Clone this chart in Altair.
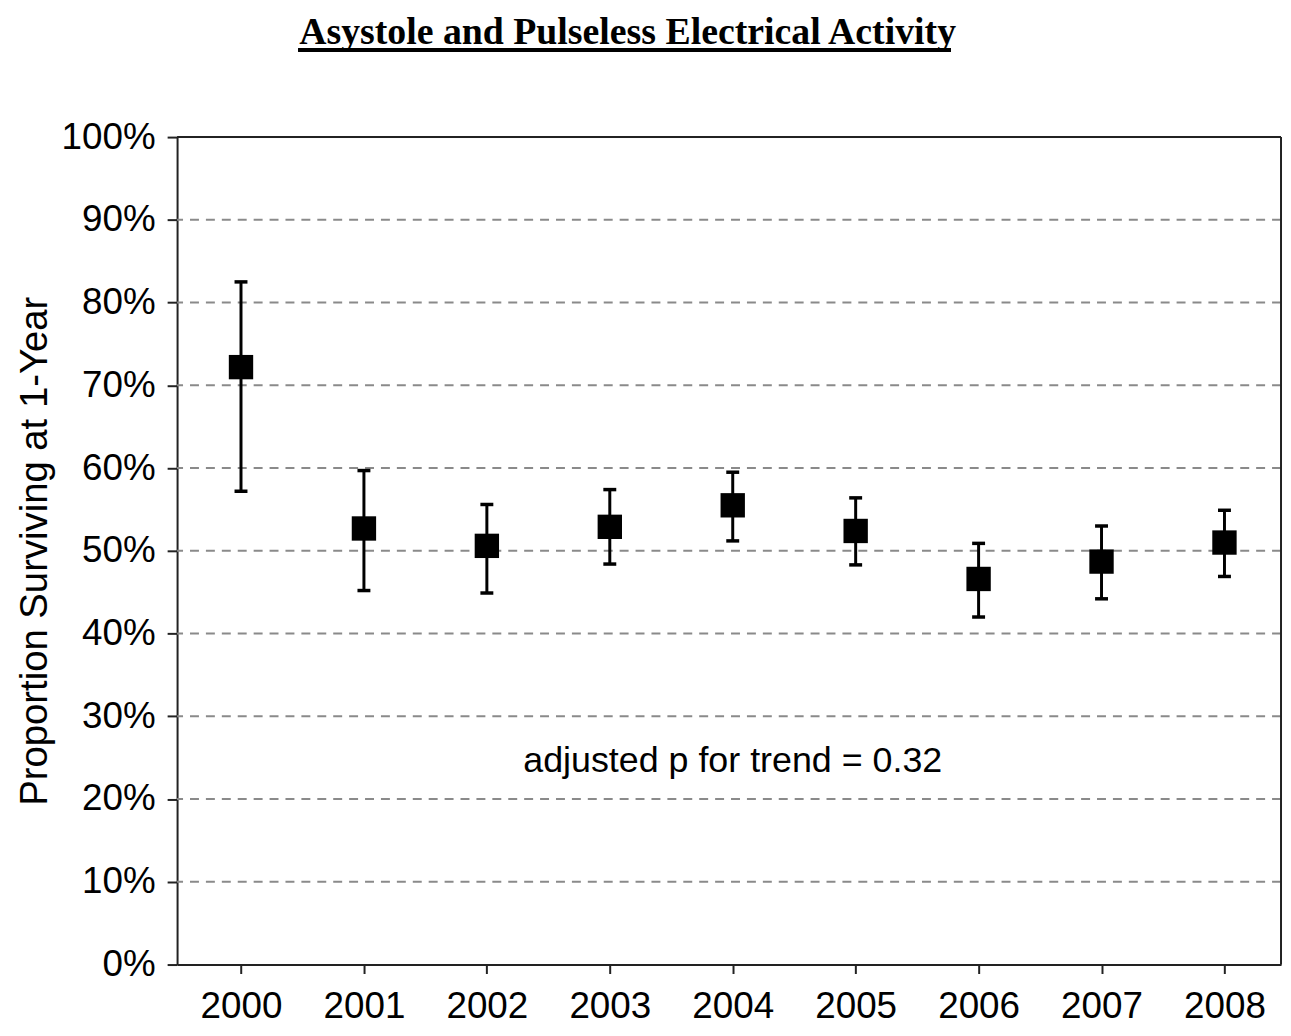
import altair as alt
import pandas as pd

# ---- data ----
years = [2000, 2001, 2002, 2003, 2004, 2005, 2006, 2007, 2008]
estimate = [72.2, 52.7, 50.6, 52.9, 55.5, 52.4, 46.6, 48.7, 51.0]
ci_low = [57.2, 45.2, 44.9, 48.4, 51.2, 48.3, 42.0, 44.2, 46.9]
ci_high = [82.5, 59.7, 55.6, 57.4, 59.5, 56.4, 50.9, 53.0, 54.9]
y_ticks = [0, 10, 20, 30, 40, 50, 60, 70, 80, 90, 100]
grid_values = [10, 20, 30, 40, 50, 60, 70, 80, 90]
x_domain = [1999.48, 2008.46]
y_domain = [0, 100]
note_text = ["adjusted p for trend = 0.32"]
note_x = [2004]
note_y = [23.3]

title_text = "Asystole and Pulseless Electrical Activity"
y_title = "Proportion Surviving at 1-Year"

df = pd.DataFrame({"year": years, "est": estimate, "lo": ci_low, "hi": ci_high})
grid_df = pd.DataFrame({"g": grid_values})
note_df = pd.DataFrame({"text": note_text, "x": note_x, "y": note_y})
top_df = pd.DataFrame({"t": [y_domain[1]]})
right_df = pd.DataFrame({"r": [x_domain[1]]})

FONT = "Liberation Sans"
AXC = "#222222"

x_scale = alt.Scale(domain=x_domain, nice=False, zero=False)
y_scale = alt.Scale(domain=y_domain, nice=False, zero=False)

x_axis = alt.Axis(values=years, format="d", grid=False, title=None,
                  tickSize=9, tickWidth=2, tickColor=AXC,
                  domainColor=AXC, domainWidth=2,
                  labelFont=FONT, labelFontSize=37, labelColor="black",
                  labelPadding=15, labelFlush=False)
y_axis = alt.Axis(values=y_ticks, labelExpr="datum.value + '%'", grid=False,
                  title=y_title, titleFont=FONT, titleFontSize=38.5,
                  titleFontWeight="normal", titleColor="black",
                  titleX=-143, titleBaseline="middle",
                  tickSize=10, tickWidth=2, tickColor=AXC,
                  domainColor=AXC, domainWidth=2,
                  labelFont=FONT, labelFontSize=37, labelColor="black",
                  labelPadding=12, labelFlush=False)

base = alt.Chart(df)

grid = alt.Chart(grid_df).mark_rule(color="#8a8a8a", strokeWidth=2,
                                    strokeDash=[9, 7]).encode(
    y=alt.Y("g:Q", scale=y_scale, axis=y_axis)
)

frame_top = alt.Chart(top_df).mark_rule(color=AXC, strokeWidth=2).encode(
    y=alt.Y("t:Q", scale=y_scale)
)
frame_right = alt.Chart(right_df).mark_rule(color=AXC, strokeWidth=2).encode(
    x=alt.X("r:Q", scale=x_scale)
)

bars = base.mark_rule(color="black", strokeWidth=3).encode(
    x=alt.X("year:Q", scale=x_scale, axis=x_axis),
    y=alt.Y("lo:Q", scale=y_scale),
    y2="hi:Q",
)

cap_lo = base.mark_tick(color="black", orient="horizontal", size=13,
                        thickness=3.5, opacity=1).encode(
    x=alt.X("year:Q", scale=x_scale),
    y=alt.Y("lo:Q", scale=y_scale),
)
cap_hi = base.mark_tick(color="black", orient="horizontal", size=13,
                        thickness=3.5, opacity=1).encode(
    x=alt.X("year:Q", scale=x_scale),
    y=alt.Y("hi:Q", scale=y_scale),
)

points = base.mark_point(shape="square", filled=True, color="black",
                         size=600, opacity=1).encode(
    x=alt.X("year:Q", scale=x_scale),
    y=alt.Y("est:Q", scale=y_scale),
)

note = alt.Chart(note_df).mark_text(font=FONT, fontSize=36, color="black",
                                    align="center", baseline="alphabetic").encode(
    x=alt.X("x:Q", scale=x_scale),
    y=alt.Y("y:Q", scale=y_scale),
    text="text:N",
)

underline = base.mark_rule(color="black", strokeWidth=3).encode(
    x=alt.value(122), x2=alt.value(778), y=alt.value(-87.5)
)

chart = alt.layer(grid, frame_top, frame_right, bars, cap_lo, cap_hi, points,
                  note, underline).properties(
    width=1110,
    height=832,
    title=alt.TitleParams(title_text, font="Liberation Serif", fontSize=38,
                          fontWeight="bold", color="black", anchor="middle",
                          frame="group", baseline="alphabetic", offset=4,
                          dx=-102, dy=37),
    padding={"left": 170, "top": 127, "right": 2, "bottom": 61},
    autosize=alt.AutoSizeParams(type="none"),
).configure_view(stroke=None).configure(background="white")

chart.save("out.html", embed_options={"renderer": "svg", "actions": False})
